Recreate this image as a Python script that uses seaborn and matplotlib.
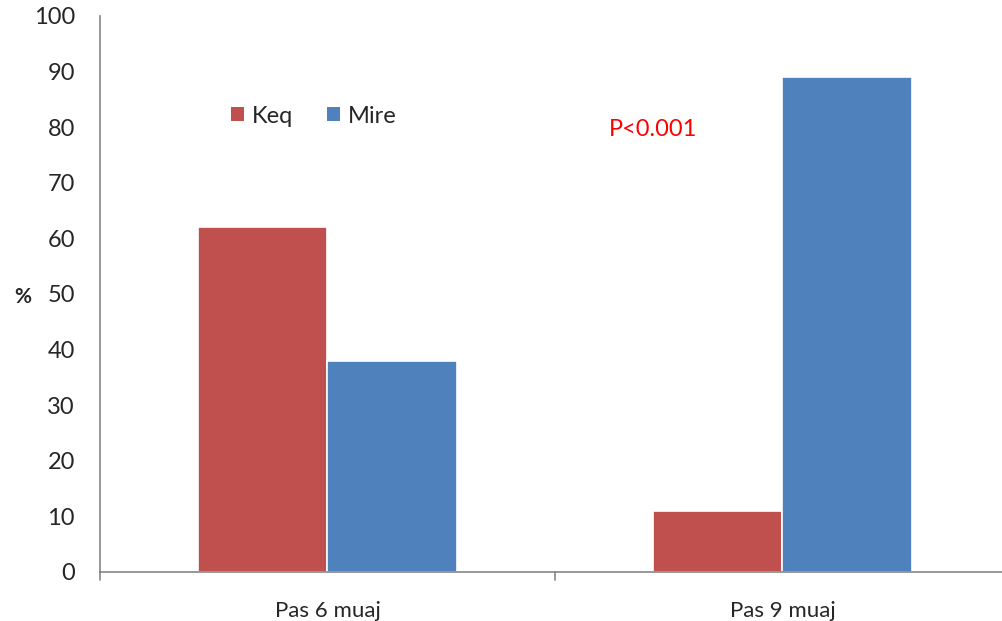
import matplotlib
matplotlib.use("Agg")
import matplotlib.pyplot as plt
import seaborn as sns
import pandas as pd
from matplotlib.patches import Patch

# Data
categories = ["Pas 6 muaj", "Pas 9 muaj"]
groups = ["Keq", "Mire"]
keq_values = [62, 11]
mire_values = [38, 89]
y_ticks = [0, 10, 20, 30, 40, 50, 60, 70, 80, 90, 100]
p_label = "P<0.001"

palette = {"Keq": "#C0504D", "Mire": "#4F81BD"}

df = pd.DataFrame({
    "category": categories * 2,
    "group": [groups[0]] * len(categories) + [groups[1]] * len(categories),
    "value": keq_values + mire_values,
})

sns.set_theme(style="white")
plt.rcParams["font.family"] = ["Lato", "DejaVu Sans"]

fig = plt.figure(figsize=(10.03, 6.21), dpi=100)
ax = fig.add_axes([100 / 1003, 1 - 572 / 621, 910 / 1003, (572 - 16) / 621])

sns.barplot(data=df, x="category", y="value", hue="group", palette=palette,
            width=0.57, edgecolor="white", linewidth=1.2, saturation=1,
            legend=False, ax=ax)

ax.set_xlim(-0.5, 1.5)
ax.set_ylim(0, 100)
ax.set_yticks(y_ticks)
ax.set_yticklabels([str(t) for t in y_ticks], fontsize=17)
ax.set_xticks([0, 1])
ax.set_xticklabels(categories, fontsize=16)
ax.tick_params(axis="x", length=0, pad=21)
ax.tick_params(axis="y", length=8, width=1.2, color="#868686", direction="out", pad=10)

# category separators on the x axis
for xb in [-0.5, 0.5, 1.5]:
    ax.plot([xb, xb], [0, -1.5], color="#868686", lw=1.2, clip_on=False)

for side in ["top", "right"]:
    ax.spines[side].set_visible(False)
for side in ["left", "bottom"]:
    ax.spines[side].set_color("#868686")
    ax.spines[side].set_linewidth(1.2)

ax.set_xlabel("")
ax.set_ylabel("%", fontsize=15, fontweight="bold", rotation=0, va="center", ha="center")
ax.yaxis.set_label_coords(-0.085, 0.495)

handles = [Patch(facecolor=palette[g], edgecolor="none") for g in groups]
ax.legend(handles, groups, loc="center", bbox_to_anchor=(0.235, 0.82), ncol=2,
          frameon=False, fontsize=17, handlelength=0.55, handleheight=0.55,
          columnspacing=1.4, handletextpad=0.35)

ax.text(0.608, 0.795, p_label, transform=ax.transAxes, color="#FF0000",
        fontsize=17, ha="center", va="center")

fig.savefig("out.png", dpi=100)
